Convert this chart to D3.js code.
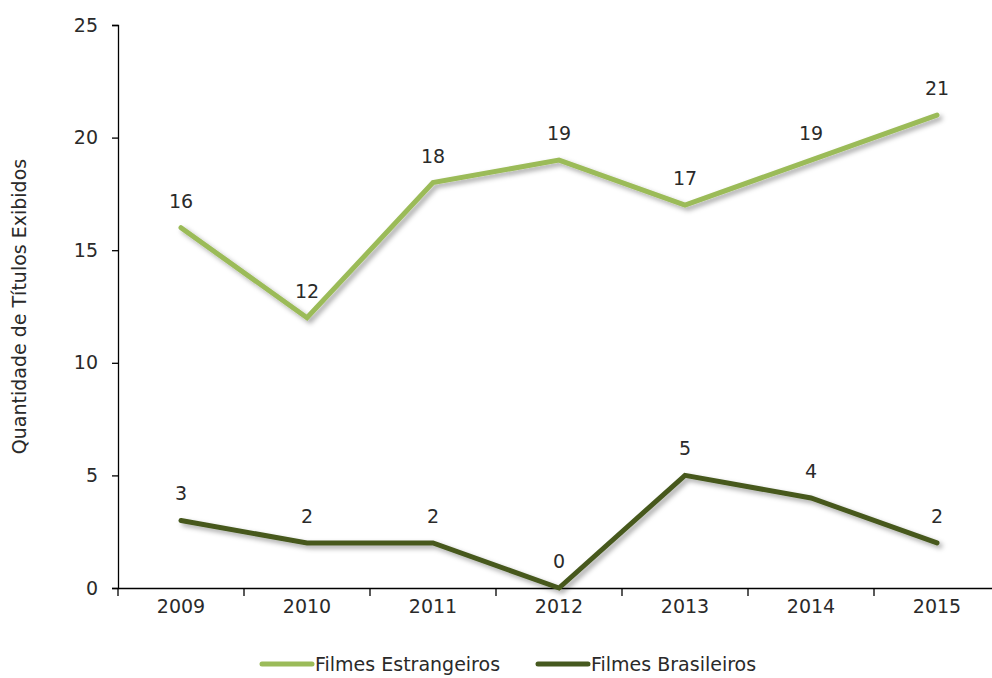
<!DOCTYPE html>
<html>
<head>
<meta charset="utf-8">
<script src="https://d3js.org/d3.v7.min.js"></script>
<style>
  body { margin: 0; background: #fff; }
  text { font-family: "DejaVu Sans", sans-serif; fill: #2a2a2a; }
</style>
</head>
<body>
<svg id="chart"></svg>
<script>
// data
let years = ['2009', '2010', '2011', '2012', '2013', '2014', '2015'];
let estrangeiros = [16, 12, 18, 19, 17, 19, 21];
let brasileiros = [3, 2, 2, 0, 5, 4, 2];
let yTicks = [0, 5, 10, 15, 20, 25];
let seriesNames = ['Filmes Estrangeiros', 'Filmes Brasileiros'];
let seriesColors = ['#9bbb59', '#46591f'];

let width = 992;
let height = 678;
let plotLeft = 118;
let plotRight = 1000;
let plotTop = 25;
let plotBottom = 588;
let fontSize = '19px';

let svg = d3.select('#chart')
    .attr('width', width)
    .attr('height', height);

// shadow under the lines
let defs = svg.append('defs');
let filter = defs.append('filter')
    .attr('id', 'shadow')
    .attr('x', '-10%').attr('y', '-10%')
    .attr('width', '130%').attr('height', '140%');
filter.append('feDropShadow')
    .attr('dx', 3).attr('dy', 3)
    .attr('stdDeviation', 2.5)
    .attr('flood-color', '#000')
    .attr('flood-opacity', 0.35);

let xScale = d3.scaleBand()
    .domain(years)
    .range([plotLeft, plotRight]);

let yScale = d3.scaleLinear()
    .domain([0, 25])
    .range([plotBottom, plotTop]);

// y axis
let yAxis = d3.axisLeft(yScale)
    .tickValues(yTicks)
    .tickSize(6)
    .tickPadding(14);

let gy = svg.append('g')
    .attr('transform', 'translate(' + plotLeft + ',0)')
    .call(yAxis);
gy.select('.domain').attr('stroke', '#000').attr('stroke-width', 1.3);
gy.selectAll('.tick line').attr('stroke', '#000').attr('stroke-width', 1.3);
gy.selectAll('.tick text').style('font-size', fontSize);

// x axis: ticks between the categories
let xAxis = d3.axisBottom(xScale)
    .tickSize(0)
    .tickPadding(12);

let gx = svg.append('g')
    .attr('transform', 'translate(0,' + plotBottom + ')')
    .call(xAxis);
gx.select('.domain').attr('stroke', '#000').attr('stroke-width', 1.3);
gx.selectAll('.tick text').style('font-size', fontSize);

gx.selectAll('.sep')
    .data(years)
    .enter()
    .append('line')
    .attr('x1', d => xScale(d))
    .attr('x2', d => xScale(d))
    .attr('y1', 0)
    .attr('y2', 8)
    .attr('stroke', '#000')
    .attr('stroke-width', 1.3);

// y title
svg.append('text')
    .attr('transform', 'translate(26,' + ((plotTop + plotBottom) / 2) + ') rotate(-90)')
    .attr('text-anchor', 'middle')
    .style('font-size', fontSize)
    .text('Quantidade de Títulos Exibidos');

// lines
let line = d3.line()
    .x((d, i) => xScale(years[i]) + xScale.bandwidth() / 2)
    .y(d => yScale(d));

let allSeries = [estrangeiros, brasileiros];

allSeries.forEach((values, s) => {
    svg.append('path')
        .datum(values)
        .attr('d', line)
        .attr('fill', 'none')
        .attr('stroke', seriesColors[s])
        .attr('stroke-width', 5)
        .attr('stroke-linecap', 'round')
        .attr('stroke-linejoin', 'miter')
        .attr('filter', 'url(#shadow)');

    svg.selectAll('.lbl' + s)
        .data(values)
        .enter()
        .append('text')
        .attr('x', (d, i) => xScale(years[i]) + xScale.bandwidth() / 2)
        .attr('y', d => yScale(d) - 20)
        .attr('text-anchor', 'middle')
        .style('font-size', fontSize)
        .text(d => d);
});

// legend
let legendX = [262, 538];
seriesNames.forEach((name, s) => {
    let g = svg.append('g')
        .attr('transform', 'translate(' + legendX[s] + ',664)');
    g.append('line')
        .attr('x1', 0).attr('x2', 50)
        .attr('y1', 0).attr('y2', 0)
        .attr('stroke', seriesColors[s])
        .attr('stroke-width', 5)
        .attr('stroke-linecap', 'round');
    g.append('text')
        .attr('x', 53)
        .attr('y', 7)
        .style('font-size', fontSize)
        .text(name);
});
</script>
</body>
</html>
